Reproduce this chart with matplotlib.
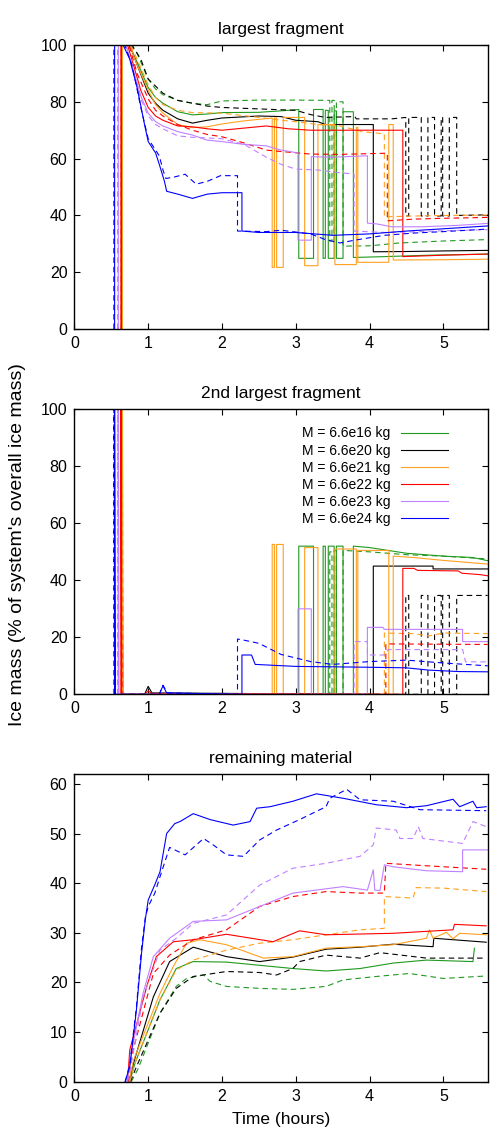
import numpy as np
import matplotlib.pyplot as plt

plt.rcParams['font.family'] = ['Liberation Sans', 'DejaVu Sans']

# mass labels and line colours (gnuplot-like palette)
masses = ['6.6e16', '6.6e20', '6.6e21', '6.6e22', '6.6e23', '6.6e24']
colors = ['#1f9a1f', '#000000', '#ffa020', '#ff0000', '#c080ff', '#0000ff']

# ---- largest fragment (% of ice mass), (time [h], value) pairs ----
lf_16 = [(0.64, 0), (0.64, 100), (0.74, 100), (0.85, 94), (1.0, 85), (1.1, 81.5), (1.2, 79.5), (1.4, 76.5),
         (1.6, 75.4), (1.8, 75.7), (2.0, 76.2), (2.5, 76.3), (2.9, 77), (3.04, 77.3), (3.04, 24.9), (3.24, 24.9),
         (3.24, 77.3), (3.37, 77.3), (3.37, 24.9), (3.40, 24.9), (3.40, 77), (3.44, 77), (3.44, 24.9),
         (3.52, 24.9), (3.52, 76.8), (3.55, 76.8), (3.55, 24.9), (3.64, 24.9), (3.64, 76.5), (3.78, 76.5),
         (3.78, 25.2), (4.2, 25.5), (4.8, 26), (5.6, 26.4)]
lf_16d = [(0.64, 0), (0.64, 100), (0.76, 100), (0.85, 97), (1.0, 88), (1.1, 84.5), (1.2, 82.5), (1.4, 80.5),
          (1.6, 79.5), (1.8, 79), (2.0, 80.3), (2.5, 80.6), (3.0, 80.6), (3.46, 80.5), (3.46, 31), (3.49, 31),
          (3.49, 80.5), (3.52, 80.5), (3.52, 30.5), (3.55, 30.5), (3.55, 80), (3.64, 80), (3.64, 29.2),
          (4.0, 29.3), (4.4, 30.3), (5.0, 31), (5.6, 31.5)]
lf_20 = [(0.645, 0), (0.645, 100), (0.75, 100), (0.85, 93), (1.0, 83), (1.1, 79.5), (1.2, 77), (1.4, 74),
         (1.6, 72.5), (1.8, 73.5), (2.0, 74.3), (2.5, 75), (2.8, 74.8), (3.0, 73.5), (3.3, 73), (3.4, 72),
         (4.05, 72), (4.05, 27.2), (4.5, 27.3), (5.0, 27.5), (5.6, 27.7)]
lf_20d = [(0.645, 0), (0.645, 100), (0.78, 100), (0.9, 95), (1.0, 88), (1.2, 83), (1.4, 80.5), (1.6, 79.5),
          (1.8, 78.5), (2.0, 78), (2.5, 77.5), (3.0, 77), (3.2, 75.5), (3.4, 74.5), (3.8, 74.8), (3.82, 74),
          (4.3, 74), (4.49, 74.5), (4.49, 39.8), (4.53, 39.8), (4.53, 74.5), (4.70, 74.5), (4.70, 39.8),
          (4.79, 39.8), (4.79, 74.5), (4.88, 74.5), (4.88, 39.8), (4.97, 39.8), (4.97, 74.5), (4.99, 74.5),
          (4.99, 39.8), (5.08, 39.8), (5.08, 74.5), (5.18, 74.5), (5.18, 40), (5.6, 40.2)]
lf_21 = [(0.65, 0), (0.65, 100), (0.75, 100), (0.85, 93), (1.0, 84), (1.1, 79), (1.2, 76), (1.4, 72),
         (1.6, 70.9), (1.8, 71.2), (2.0, 72.2), (2.3, 73.3), (2.68, 74.3), (2.68, 21.7), (2.71, 21.7),
         (2.71, 74.3), (2.74, 74.3), (2.74, 21.7), (2.83, 21.7), (2.83, 74.5), (3.12, 74.5), (3.12, 22.3),
         (3.30, 22.3), (3.30, 72), (3.53, 72), (3.53, 22.7), (3.82, 22.7), (3.82, 71), (3.84, 71), (3.84, 23.5),
         (4.26, 23.5), (4.26, 72), (4.32, 72), (4.32, 24.3), (5.0, 24.4), (5.6, 24.6)]
lf_21d = [(0.65, 0), (0.65, 100), (0.76, 100), (0.85, 95), (1.0, 86), (1.1, 81.5), (1.2, 79), (1.4, 77),
          (1.6, 76.2), (2.0, 76), (2.5, 74.5), (2.8, 73.5), (3.0, 73), (3.3, 72), (3.6, 71.5), (3.9, 69.5),
          (4.2, 68.7), (4.2, 39.5), (4.6, 39.8), (5.0, 40), (5.6, 40.1)]
lf_22 = [(0.63, 0), (0.63, 100), (0.72, 100), (0.8, 93), (0.9, 84), (1.0, 78), (1.1, 75), (1.2, 73.5),
         (1.4, 71.5), (1.6, 71.2), (1.8, 70.5), (2.0, 70), (2.2, 70.5), (2.6, 71.5), (2.9, 70.5), (3.2, 70),
         (4.45, 70), (4.45, 25.5), (5.0, 26), (5.6, 26.4)]
lf_22d = [(0.635, 0), (0.635, 100), (0.74, 100), (0.85, 90), (1.0, 81), (1.1, 77), (1.2, 75), (1.4, 72),
          (1.6, 70), (1.8, 68.5), (2.0, 67.7), (2.3, 65.5), (2.6, 63), (2.8, 62.5), (3.2, 61.6), (3.6, 61.5),
          (4.24, 61.9), (4.24, 38.1), (4.6, 38.7), (5.0, 39), (5.6, 39.3)]
lf_23 = [(0.595, 0), (0.595, 100), (0.70, 100), (0.8, 91), (0.9, 82), (1.0, 76), (1.1, 73), (1.2, 71.5),
         (1.4, 69.5), (1.6, 68.3), (1.8, 66.5), (2.0, 66), (2.3, 65), (2.6, 64.5), (2.8, 63), (3.03, 62),
         (3.03, 31.3), (3.21, 31.3), (3.21, 60.7), (3.5, 60.5), (3.97, 61), (3.97, 37.3), (4.1, 37),
         (4.3, 36), (4.7, 36), (5.2, 36.5), (5.6, 37.2)]
lf_23d = [(0.585, 0), (0.585, 100), (0.70, 100), (0.8, 90), (0.9, 81), (1.0, 75), (1.1, 72), (1.2, 70.5),
          (1.4, 68), (1.6, 67.5), (2.0, 67), (2.3, 65), (2.6, 60.5), (2.8, 58), (3.0, 56.3), (3.3, 56),
          (3.6, 55), (3.79, 54.6), (3.79, 34.5), (4.2, 34), (4.6, 34.2), (5.0, 34.6), (5.6, 35)]
lf_24 = [(0.545, 0), (0.545, 100), (0.66, 100), (0.75, 95), (0.85, 85), (0.95, 72), (1.0, 66), (1.1, 62),
         (1.15, 58), (1.22, 52), (1.25, 48.5), (1.4, 47.5), (1.6, 46), (1.8, 47.5), (2.0, 48), (2.27, 48),
         (2.27, 34.5), (2.5, 34), (3.0, 34), (3.5, 33), (4.0, 33.5), (4.5, 34.5), (5.0, 35.3), (5.6, 36.3)]
lf_24d = [(0.535, 0), (0.535, 100), (0.68, 100), (0.78, 93), (0.9, 78), (1.0, 67), (1.1, 63), (1.15, 61),
          (1.2, 56), (1.24, 53), (1.35, 53.5), (1.5, 54.5), (1.65, 51), (1.8, 52), (1.98, 54), (2.21, 54),
          (2.21, 34.5), (2.6, 34.3), (2.8, 34.8), (3.2, 33.5), (3.4, 31.5), (3.6, 30.3), (3.8, 31.3),
          (4.2, 33), (4.6, 33.8), (5.0, 34.3), (5.6, 35.2)]

# ---- 2nd largest fragment ----
sf_16 = [(0.64, 0), (0.64, 100), (0.65, 0), (3.04, 0), (3.04, 52), (3.24, 52), (3.24, 0), (3.37, 0),
         (3.37, 52), (3.40, 52), (3.40, 0), (3.44, 0), (3.44, 52), (3.52, 52), (3.52, 0), (3.55, 0), (3.55, 52),
         (3.64, 52), (3.64, 0), (3.78, 0), (3.78, 52), (4.0, 51.5), (4.5, 49.5), (5.0, 48.5), (5.4, 48),
         (5.6, 46.9)]
sf_16d = [(0.64, 0), (0.64, 100), (0.65, 0), (3.46, 0), (3.46, 50), (3.49, 50), (3.49, 0), (3.52, 0),
          (3.52, 50.5), (3.55, 50.5), (3.55, 0), (3.64, 0), (3.64, 50.5), (4.0, 50), (4.5, 49), (5.0, 48.5),
          (5.6, 47.5)]
sf_20 = [(0.645, 0), (0.645, 100), (0.655, 0), (0.95, 0), (1.0, 2.8), (1.05, 0.5), (4.05, 0), (4.05, 45),
         (4.86, 45), (4.86, 44), (5.6, 44)]
sf_20d = [(0.645, 0), (0.645, 100), (0.655, 0), (4.49, 0), (4.49, 34.7), (4.53, 34.7), (4.53, 0), (4.70, 0),
          (4.70, 34.7), (4.79, 34.7), (4.79, 0), (4.88, 0), (4.88, 34.7), (4.97, 34.7), (4.97, 0), (4.99, 0),
          (4.99, 34.7), (5.08, 34.7), (5.08, 0), (5.18, 0), (5.18, 34.7), (5.6, 34.7)]
sf_21 = [(0.65, 0), (0.65, 100), (0.66, 0), (2.68, 0), (2.68, 52.6), (2.71, 52.6), (2.71, 0), (2.74, 0),
         (2.74, 52.6), (2.83, 52.6), (2.83, 0), (3.12, 0), (3.12, 51.5), (3.30, 51.5), (3.30, 0), (3.53, 0),
         (3.53, 51), (3.82, 51), (3.82, 0), (3.84, 0), (3.84, 50.5), (4.26, 50.5), (4.26, 0), (4.32, 0),
         (4.32, 48.5), (4.6, 48), (5.0, 47), (5.6, 45.7)]
sf_21d = [(0.65, 0), (0.65, 100), (0.66, 0), (4.2, 0), (4.2, 21.5), (4.6, 21.3), (4.8, 20.5), (5.0, 21.5),
          (5.6, 21.3)]
sf_22 = [(0.63, 0), (0.63, 100), (0.64, 0), (0.95, 0), (1.0, 1.2), (1.05, 0.3), (4.45, 0), (4.45, 44.2),
         (4.6, 44.2), (4.65, 43.5), (5.2, 43.3), (5.25, 42.5), (5.5, 42), (5.6, 41.6)]
sf_22d = [(0.635, 0), (0.635, 100), (0.645, 0), (4.22, 0), (4.22, 17.7), (5.6, 17.5)]
sf_23 = [(0.595, 0), (0.595, 100), (0.605, 0), (3.03, 0), (3.03, 30), (3.21, 30), (3.21, 0), (3.97, 0),
         (3.97, 23.5), (4.18, 23.5), (4.2, 22.8), (5.26, 22.8), (5.26, 18.5), (5.6, 18.5)]
sf_23d = [(0.585, 0), (0.585, 100), (0.595, 0), (3.79, 0), (3.79, 18.5), (3.97, 18.5), (3.97, 13.8),
          (4.2, 13.8), (4.25, 15.7), (5.26, 15.7), (5.3, 11.4), (5.6, 11.4)]
sf_24 = [(0.545, 0), (0.545, 100), (0.555, 0), (1.15, 0), (1.2, 3), (1.25, 0.5), (2.27, 0), (2.27, 13.8),
         (2.4, 13.8), (2.45, 10.5), (3.0, 9.8), (4.0, 9.5), (4.5, 9.3), (4.8, 8.5), (5.2, 8.0), (5.6, 7.9)]
sf_24d = [(0.535, 0), (0.535, 100), (0.545, 0), (1.15, 0), (1.2, 3.2), (1.26, 0.5), (2.21, 0),
          (2.21, 19.4), (2.3, 19), (2.5, 17.9), (2.8, 14), (3.2, 11.5), (3.5, 10.5), (4.0, 11.5), (4.5, 12),
          (5.0, 11), (5.6, 10)]

# ---- remaining material ----
rm_16 = [(0.75, 0), (0.82, 3.7), (1.16, 16.5), (1.38, 22.8), (1.61, 24.2), (2.06, 24.1), (2.96, 22.8),
         (3.41, 22.3), (3.87, 22.8), (4.32, 23.9), (4.77, 24.5), (5.4, 24.2), (5.42, 26.9)]
rm_16d = [(0.77, 0), (0.86, 2.5), (1.16, 13.8), (1.38, 19.2), (1.52, 20.8), (1.75, 21.5), (1.84, 20.2),
          (2.06, 19.2), (2.51, 18.8), (2.96, 18.6), (3.41, 19.2), (3.64, 20.5), (4.09, 21.2), (4.54, 21.8),
          (5.0, 20.8), (5.58, 21.3)]
rm_20 = [(0.74, 0), (0.8, 3.7), (1.07, 17.1), (1.29, 24.2), (1.61, 27.1), (2.06, 25.2), (2.51, 24.2),
         (2.96, 25.1), (3.41, 26.7), (3.87, 27.1), (4.32, 27.7), (4.86, 27.2), (4.87, 28.9), (5.58, 28.1)]
rm_20d = [(0.76, 0), (0.84, 3), (1.16, 13.8), (1.38, 18.8), (1.61, 21.2), (2.06, 22.2), (2.51, 22),
          (2.74, 21.5), (2.96, 22.8), (3.05, 24.2), (3.41, 25.5), (3.87, 24.9), (4.14, 26), (4.77, 24.9),
          (5.58, 24.9)]
rm_21 = [(0.74, 0), (0.8, 4.3), (1.16, 17.8), (1.34, 23.2), (1.52, 27.9), (1.7, 28.6), (2.06, 27.6),
         (2.56, 24.9), (2.96, 25.2), (3.41, 26.9), (3.87, 27.2), (4.32, 27.6), (4.77, 28.9), (4.81, 30.6),
         (4.86, 28.9), (5.04, 30.1), (5.13, 28.8), (5.22, 29.9), (5.58, 29.6)]
rm_21d = [(0.75, 0), (0.82, 3.7), (1.16, 16.5), (1.38, 22.5), (1.61, 24.5), (2.06, 26.5), (2.51, 27.9),
          (2.96, 28.6), (3.41, 29.6), (3.87, 30.6), (4.2, 30.9), (4.2, 37.3), (4.59, 37), (4.63, 39.1),
          (5.0, 39), (5.58, 38.3)]
rm_22 = [(0.72, 0), (0.75, 6.4), (0.98, 19.2), (1.11, 25.2), (1.34, 28.2), (1.61, 28.6), (2.06, 29.7),
         (2.69, 28.2), (3.05, 30.4), (3.41, 29.6), (4.32, 29.9), (5.13, 30.6), (5.15, 31.7), (5.58, 31.4)]
rm_22d = [(0.73, 0), (0.78, 5.5), (1.07, 21.8), (1.29, 25.5), (1.61, 28.6), (2.06, 30.6), (2.51, 35.3),
          (2.96, 37.3), (3.41, 38.3), (3.87, 38), (4.2, 38), (4.22, 44), (4.77, 43.5), (5.58, 42.8)]
rm_23 = [(0.71, 0), (0.8, 8), (0.93, 17.8), (1.07, 25.2), (1.29, 28.9), (1.61, 32.3), (2.06, 32.6),
         (2.51, 35.3), (2.96, 38), (3.64, 39.3), (3.97, 38.6), (4.05, 42.7), (4.07, 38.6), (4.14, 38.5),
         (4.2, 43.7), (4.32, 43.3), (4.77, 42.5), (5.26, 42.3), (5.26, 46.7), (5.6, 46.7)]
rm_23d = [(0.72, 0), (0.8, 6), (0.93, 17), (1.16, 26.5), (1.38, 28.9), (1.61, 31.9), (2.06, 33.6),
          (2.51, 39.6), (2.96, 43), (3.41, 44), (3.87, 45.4), (4.05, 47.7), (4.09, 51.1), (4.36, 50.7),
          (4.41, 49), (4.59, 49), (4.66, 51.4), (4.72, 49), (5.26, 48), (5.4, 52.4), (5.58, 51.4)]
rm_24 = [(0.686, 0), (0.75, 3), (0.84, 14.4), (0.91, 25.9), (0.96, 32.6), (1.0, 36.6), (1.09, 39.7),
         (1.16, 42.3), (1.25, 50), (1.36, 52), (1.43, 52.4), (1.61, 54), (1.84, 52.8), (2.15, 51.7),
         (2.38, 52.4), (2.47, 55.1), (2.65, 55.4), (2.96, 56.5), (3.28, 58), (3.64, 57.1), (4.09, 55.8),
         (4.5, 55.2), (4.77, 55.6), (5.13, 56.9), (5.22, 55.4), (5.4, 56.5), (5.45, 55.2), (5.58, 55.4)]
rm_24d = [(0.69, 0), (0.75, 3.5), (0.84, 15), (0.91, 27), (0.96, 33), (1.0, 35.3), (1.09, 38),
          (1.16, 41.3), (1.29, 47.2), (1.5, 45.7), (1.75, 49), (1.9, 47.5), (2.06, 45.7), (2.29, 45.4),
          (2.51, 48.7), (2.74, 50.7), (3.05, 52.8), (3.41, 55.4), (3.46, 57.1), (3.69, 58.9), (3.87, 56.8),
          (4.32, 56.5), (4.68, 54.8), (5.58, 54.6)]

largest = [(lf_16, lf_16d), (lf_20, lf_20d), (lf_21, lf_21d), (lf_22, lf_22d), (lf_23, lf_23d), (lf_24, lf_24d)]
second = [(sf_16, sf_16d), (sf_20, sf_20d), (sf_21, sf_21d), (sf_22, sf_22d), (sf_23, sf_23d), (sf_24, sf_24d)]
remaining = [(rm_16, rm_16d), (rm_20, rm_20d), (rm_21, rm_21d), (rm_22, rm_22d), (rm_23, rm_23d), (rm_24, rm_24d)]

dash = (0, (5, 3.5))
left, width = 0.1494, 0.8299


def draw_panel(ax, series, title, ymax, yticks, legend=False):
    for (solid, dashed), col, m in zip(series, colors, masses):
        t, v = zip(*solid)
        ax.plot(t, v, color=col, lw=0.8, label=f'M = {m} kg')
        t, v = zip(*dashed)
        ax.plot(t, v, color=col, lw=0.8, linestyle=dash)
    ax.set_xlim(0, 5.6)
    ax.set_ylim(0, ymax)
    ax.set_xticks(range(6))
    ax.set_yticks(yticks)
    ax.tick_params(direction='in', length=4, width=0.8, top=True, right=True, labelsize=11.5, pad=5)
    for s in ax.spines.values():
        s.set_linewidth(1.0)
    ax.set_title(title, fontsize=12.5, pad=8)
    if legend:
        # gnuplot style key: text first, sample line after it
        ax.legend(loc='upper right', bbox_to_anchor=(0.904, 0.94), frameon=False, markerfirst=False,
                  fontsize=10, handlelength=3.4, labelspacing=0.22, handletextpad=0.75,
                  borderpad=0, borderaxespad=0)


fig = plt.figure(figsize=(4.98, 11.39), dpi=100)
ax1 = fig.add_axes([left, 0.7111, width, 0.2494])
ax2 = fig.add_axes([left, 0.3904, width, 0.2502])
ax3 = fig.add_axes([left, 0.0503, width, 0.2702])

draw_panel(ax1, largest, 'largest fragment', 100, range(0, 101, 20))
draw_panel(ax2, second, '2nd largest fragment', 100, range(0, 101, 20), legend=True)
draw_panel(ax3, remaining, 'remaining material', 62, range(0, 61, 10))

ax3.set_xlabel('Time (hours)', fontsize=12.5, labelpad=6)
fig.text(18 / 498, 1 - 545 / 1139, "Ice mass (% of system's overall ice mass)", rotation=90,
         ha='center', va='center', fontsize=14)

fig.savefig('out.png', dpi=100)
